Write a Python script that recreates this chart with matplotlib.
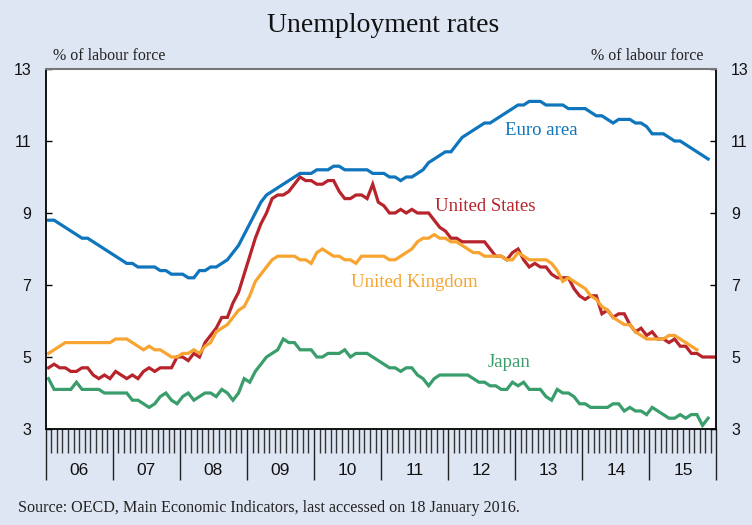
import numpy as np
import matplotlib
matplotlib.use('Agg')
import matplotlib.pyplot as plt
import matplotlib.transforms as mtransforms

# monthly data, Jan 2006 onwards (% of labour force)
euro_area = [8.8, 8.8, 8.7, 8.6, 8.5, 8.4, 8.3, 8.3, 8.2, 8.1, 8.0, 7.9,
             7.8, 7.7, 7.6, 7.6, 7.5, 7.5, 7.5, 7.5, 7.4, 7.4, 7.3, 7.3,
             7.3, 7.2, 7.2, 7.4, 7.4, 7.5, 7.5, 7.6, 7.7, 7.9, 8.1, 8.4,
             8.7, 9.0, 9.3, 9.5, 9.6, 9.7, 9.8, 9.9, 10.0, 10.1, 10.1, 10.1,
             10.2, 10.2, 10.2, 10.3, 10.3, 10.2, 10.2, 10.2, 10.2, 10.2, 10.1, 10.1,
             10.1, 10.0, 10.0, 9.9, 10.0, 10.0, 10.1, 10.2, 10.4, 10.5, 10.6, 10.7,
             10.7, 10.9, 11.1, 11.2, 11.3, 11.4, 11.5, 11.5, 11.6, 11.7, 11.8, 11.9,
             12.0, 12.0, 12.1, 12.1, 12.1, 12.0, 12.0, 12.0, 12.0, 11.9, 11.9, 11.9,
             11.9, 11.8, 11.7, 11.7, 11.6, 11.5, 11.6, 11.6, 11.6, 11.5, 11.5, 11.4,
             11.2, 11.2, 11.2, 11.1, 11.0, 11.0, 10.9, 10.8, 10.7, 10.6, 10.5]

united_states = [4.7, 4.8, 4.7, 4.7, 4.6, 4.6, 4.7, 4.7, 4.5, 4.4, 4.5, 4.4,
                 4.6, 4.5, 4.4, 4.5, 4.4, 4.6, 4.7, 4.6, 4.7, 4.7, 4.7, 5.0,
                 5.0, 4.9, 5.1, 5.0, 5.4, 5.6, 5.8, 6.1, 6.1, 6.5, 6.8, 7.3,
                 7.8, 8.3, 8.7, 9.0, 9.4, 9.5, 9.5, 9.6, 9.8, 10.0, 9.9, 9.9,
                 9.8, 9.8, 9.9, 9.9, 9.6, 9.4, 9.4, 9.5, 9.5, 9.4, 9.8, 9.3,
                 9.2, 9.0, 9.0, 9.1, 9.0, 9.1, 9.0, 9.0, 9.0, 8.8, 8.6, 8.5,
                 8.3, 8.3, 8.2, 8.2, 8.2, 8.2, 8.2, 8.0, 7.8, 7.8, 7.7, 7.9,
                 8.0, 7.7, 7.5, 7.6, 7.5, 7.5, 7.3, 7.2, 7.2, 7.2, 6.9, 6.7,
                 6.6, 6.7, 6.7, 6.2, 6.3, 6.1, 6.2, 6.2, 5.9, 5.7, 5.8, 5.6,
                 5.7, 5.5, 5.5, 5.4, 5.5, 5.3, 5.3, 5.1, 5.1, 5.0, 5.0, 5.0]

united_kingdom = [5.1, 5.2, 5.3, 5.4, 5.4, 5.4, 5.4, 5.4, 5.4, 5.4, 5.4, 5.4,
                  5.5, 5.5, 5.5, 5.4, 5.3, 5.2, 5.3, 5.2, 5.2, 5.1, 5.0, 5.0,
                  5.1, 5.1, 5.2, 5.1, 5.3, 5.4, 5.7, 5.8, 5.9, 6.1, 6.3, 6.4,
                  6.7, 7.1, 7.3, 7.5, 7.7, 7.8, 7.8, 7.8, 7.8, 7.7, 7.7, 7.6,
                  7.9, 8.0, 7.9, 7.8, 7.8, 7.7, 7.7, 7.6, 7.8, 7.8, 7.8, 7.8,
                  7.8, 7.7, 7.7, 7.8, 7.9, 8.0, 8.2, 8.3, 8.3, 8.4, 8.3, 8.3,
                  8.2, 8.2, 8.1, 8.0, 7.9, 7.9, 7.8, 7.8, 7.8, 7.8, 7.7, 7.7,
                  7.9, 7.8, 7.7, 7.7, 7.7, 7.7, 7.6, 7.4, 7.1, 7.2, 7.1, 7.0,
                  6.9, 6.7, 6.6, 6.4, 6.3, 6.1, 6.0, 5.9, 5.9, 5.7, 5.6, 5.5,
                  5.5, 5.5, 5.5, 5.6, 5.6, 5.5, 5.4, 5.3, 5.2]

japan = [4.4, 4.1, 4.1, 4.1, 4.1, 4.3, 4.1, 4.1, 4.1, 4.1, 4.0, 4.0,
         4.0, 4.0, 4.0, 3.8, 3.8, 3.7, 3.6, 3.7, 3.9, 4.0, 3.8, 3.7,
         3.9, 4.0, 3.8, 3.9, 4.0, 4.0, 3.9, 4.1, 4.0, 3.8, 4.0, 4.4,
         4.3, 4.6, 4.8, 5.0, 5.1, 5.2, 5.5, 5.4, 5.4, 5.2, 5.2, 5.2,
         5.0, 5.0, 5.1, 5.1, 5.1, 5.2, 5.0, 5.1, 5.1, 5.1, 5.0, 4.9,
         4.8, 4.7, 4.7, 4.6, 4.7, 4.7, 4.5, 4.4, 4.2, 4.4, 4.5, 4.5,
         4.5, 4.5, 4.5, 4.5, 4.4, 4.3, 4.3, 4.2, 4.2, 4.1, 4.1, 4.3,
         4.2, 4.3, 4.1, 4.1, 4.1, 3.9, 3.8, 4.1, 4.0, 4.0, 3.9, 3.7,
         3.7, 3.6, 3.6, 3.6, 3.6, 3.7, 3.7, 3.5, 3.6, 3.5, 3.5, 3.4,
         3.6, 3.5, 3.4, 3.3, 3.3, 3.4, 3.3, 3.4, 3.4, 3.1, 3.3]

year_labels = ['06', '07', '08', '09', '10', '11', '12', '13', '14', '15']
yticks = [3, 5, 7, 9, 11, 13]

# name, values, colour, label x (month), label y (value)
series = [
    ('Euro area', euro_area, '#0f75bc', 88.7, 11.28),
    ('United States', united_states, '#b8242c', 78.6, 9.17),
    ('United Kingdom', united_kingdom, '#f7a530', 66.0, 7.08),
    ('Japan', japan, '#3a9d6c', 82.9, 4.86),
]

bg = '#dfe6f3'
serif = ['Liberation Serif', 'DejaVu Serif']
plt.rcParams['font.family'] = ['Liberation Sans', 'DejaVu Sans']

fig = plt.figure(figsize=(7.52, 5.25), dpi=100, facecolor=bg)
ax = fig.add_axes([45.7 / 752, 1 - 429 / 525, 670.8 / 752, 360 / 525])
ax.set_facecolor('white')

for name, vals, col, lx, ly in series:
    x = np.arange(len(vals)) + 0.5
    ax.plot(x, vals, color=col, lw=2.3, solid_joinstyle='miter')
    ax.text(lx, ly, name, color=col, fontsize=13.5,
            family=serif, ha='center', va='center')

ax.set_xlim(0, 120)
ax.set_ylim(3, 13)

# y axis, both sides
ax.set_yticks(yticks)
ax.tick_params(axis='y', direction='in', length=4, width=1, labelsize=11.5,
               left=True, right=True, labelleft=True, labelright=True, pad=10.5,
               labelcolor='#111111')

# x axis: month ticks and year separators
ax.set_xticks(np.arange(0, 121, 12))
ax.set_xticks(np.arange(0, 121), minor=True)
ax.set_xticklabels([])
ax.tick_params(axis='x', which='major', direction='out', length=37, width=1, color='#222222')
ax.tick_params(axis='x', which='minor', direction='out', length=17, width=1, color='#333333')

trans = mtransforms.blended_transform_factory(ax.transData, ax.transAxes)
for i, lab in enumerate(year_labels):
    ax.text(i * 12 + 6, -0.114, lab, transform=trans, ha='center', va='center',
            fontsize=12.5, color='#111111')

for s in ['left', 'right', 'bottom']:
    ax.spines[s].set_color('black')
    ax.spines[s].set_linewidth(1.3)
ax.spines['top'].set_color('#777777')
ax.spines['top'].set_linewidth(1.5)

fig.text(383 / 752, 1 - 26 / 525, 'Unemployment rates', ha='center', va='center',
         fontsize=20, family=serif, color='#111111')
fig.text(53 / 752, 1 - 56 / 525, '% of labour force', ha='left', va='center',
         fontsize=11.5, family=serif, color='#222222')
fig.text(703 / 752, 1 - 56 / 525, '% of labour force', ha='right', va='center',
         fontsize=11.5, family=serif, color='#222222')
fig.text(18 / 752, 1 - 508 / 525,
         'Source: OECD, Main Economic Indicators, last accessed on 18 January 2016.',
         ha='left', va='center', fontsize=11.6, family=serif, color='#222222')

fig.savefig('out.png', dpi=100, facecolor=bg)
